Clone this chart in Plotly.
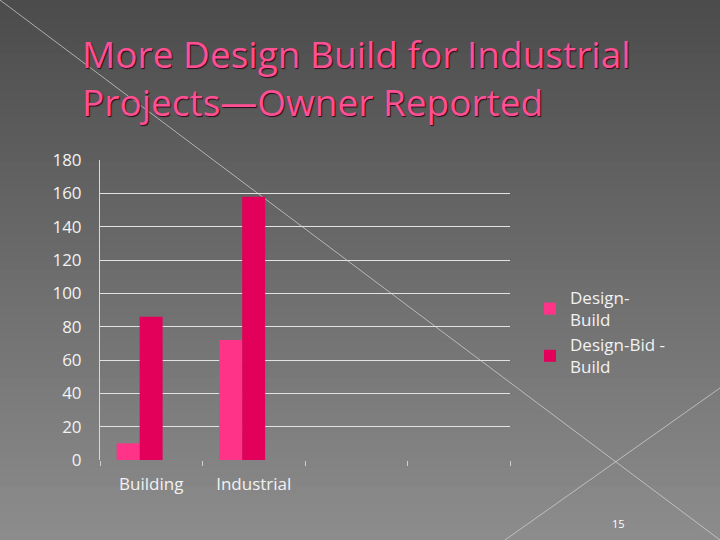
"""
Design Build vs Design-Bid-Build, owner reported project counts
----------------------------------------------------------------
Grouped bar chart drawn on a grey slide-style background.
"""

import plotly.graph_objects as go

# Chart data
categories = ["Building", "Industrial", " ", "  "]  # two empty slots like the original sheet
design_build = [10, 72, None, None]
design_bid_build = [86, 158, None, None]
series_names = ["Design-<br>Build", "Design-Bid -<br>Build"]
y_ticks = [0, 20, 40, 60, 80, 100, 120, 140, 160, 180]
grid_ticks = [20, 40, 60, 80, 100, 120, 140, 160]

# Plot area in pixels (720x540 page)
L, R, T, B = 100, 510, 160, 460
W, H = 720, 540


def px_x(x):
    return (x - L) / (R - L)


def px_y(y):
    return (B - y) / (B - T)


fig = go.Figure()

fig.add_trace(go.Bar(x=categories, y=design_build, name=series_names[0],
                     marker=dict(color="#ff3388", line=dict(width=0)),
                     width=0.224, offset=-0.337))
fig.add_trace(go.Bar(x=categories, y=design_bid_build, name=series_names[1],
                     marker=dict(color="#e3005a", line=dict(width=0)),
                     width=0.224, offset=-0.113))
# invisible trace just to carry the grid lines on a second y axis
fig.add_trace(go.Scatter(x=[categories[0]], y=[None], yaxis="y2", showlegend=False, hoverinfo="skip"))

# grey gradient background built from thin bands
shapes = []
n_bands = 60
top_rgb, bot_rgb = (76, 76, 76), (140, 140, 140)
for i in range(n_bands):
    f = i / (n_bands - 1)
    c = [round(top_rgb[k] + (bot_rgb[k] - top_rgb[k]) * f) for k in range(3)]
    y0 = i * H / n_bands
    y1 = (i + 1) * H / n_bands + 1
    shapes.append(dict(type="rect", xref="paper", yref="paper", layer="below",
                       x0=px_x(-2), x1=px_x(W + 2), y0=px_y(y0 - (2 if i == 0 else 0)), y1=px_y(y1),
                       fillcolor="rgb(%d,%d,%d)" % tuple(c), line=dict(width=0)))

# the two thin diagonal lines of the slide theme
for (xa, ya, xb, yb) in [(0, 0, 720, 540), (505, 540, 720, 388)]:
    shapes.append(dict(type="line", xref="paper", yref="paper", layer="below",
                       x0=px_x(xa), y0=px_y(ya), x1=px_x(xb), y1=px_y(yb),
                       line=dict(color="rgba(215,215,215,0.7)", width=1)))

fig.update_layout(
    width=W, height=H,
    margin=dict(l=L, r=W - R, t=T, b=H - B, pad=0),
    paper_bgcolor="#666666",
    plot_bgcolor="rgba(0,0,0,0)",
    barmode="overlay",
    shapes=shapes,
    font=dict(family="Open Sans", color="#f2f2f2"),
    title=dict(
        text="More Design Build for Industrial<br>Projects\u2014Owner Reported",
        x=82 / W, xanchor="left", xref="container",
        y=1 - 68 / H, yanchor="top", yref="container",
        font=dict(family="Open Sans", size=37, color="#ff4f93",
                  shadow="1px 1px 1px #2a0a1a"),
    ),
    xaxis=dict(
        type="category", range=[-0.5, 3.5], showgrid=False, zeroline=False,
        showline=False, ticks="outside", tickson="boundaries", ticklen=5,
        tickcolor="#cfcfcf", tickwidth=1, ticklabelstandoff=12,
        tickfont=dict(size=17, color="#f2f2f2"),
    ),
    yaxis=dict(
        range=[0, 180], tickvals=y_ticks, showgrid=False, zeroline=False,
        showline=True, linecolor="#d8d8d8", linewidth=1, ticks="",
        ticklabelstandoff=14, tickfont=dict(size=17, color="#f2f2f2"),
    ),
    yaxis2=dict(
        range=[0, 180], overlaying="y", tickvals=grid_ticks, showgrid=True,
        gridcolor="#e2e2e2", gridwidth=1.3, showticklabels=False,
        zeroline=False, showline=False,
    ),
    legend=dict(
        x=px_x(530), y=px_y(280), xanchor="left", yanchor="top",
        bgcolor="rgba(0,0,0,0)", itemwidth=30,
        font=dict(size=17, color="#f2f2f2"),
    ),
    annotations=[dict(text="15", xref="paper", yref="paper",
                      x=px_x(618), y=px_y(523), xanchor="center", yanchor="middle",
                      showarrow=False, font=dict(size=11, color="#ffffff"))],
)

# drop the default page margin so the slide fills the window
fig.write_html("out.html", config={"displayModeBar": False},
               post_script="document.body.style.margin='0px';")
